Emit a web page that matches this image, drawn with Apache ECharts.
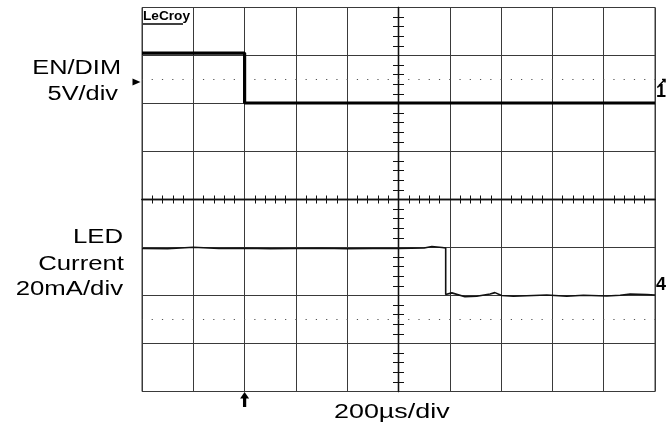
<!DOCTYPE html>
<html>
<head>
<meta charset="utf-8">
<script src="https://cdn.jsdelivr.net/npm/echarts@6/dist/echarts.min.js"></script>
<style>
html,body{margin:0;padding:0;background:#fff;}
#chart{width:666px;height:428px;}
</style>
</head>
<body>
<div id="chart"></div>
<script>
// ---- Scope settings ----
const TIME_MIN = -1000, TIME_MAX = 1000, TIME_PER_DIV = 200;   // µs, 200µs/div
const DIV_MIN = -4, DIV_MAX = 4;                               // vertical divisions
const CH1_VOLTS_PER_DIV = 5, CH1_OFFSET_DIV = 2;               // EN/DIM 5V/div
const CH4_MA_PER_DIV = 20, CH4_OFFSET_DIV = -2;                // LED current 20mA/div
const TRIGGER_TIME = -600;
const TRIGGER_LEVEL_DIV = 2.5;
const DOTTED_ROWS_DIV = [2.5, -2.5];

// ---- Channel 1: EN/DIM (V) ----
const ch1Time  = [-1000, -600, -600, 1000];
const ch1Volts = [5.25, 5.25, 0.05, 0.05];

// ---- Channel 4: LED current (mA) ----
const ch4Time = [-1000, -900, -800, -760, -700, -600, -500, -400, -300, -200, -100, 0, 100, 130, 170, 184,
                 184, 208, 259, 305, 357, 376, 402, 448, 578, 656, 721, 812, 864, 903, 968, 1000];
const ch4mA   = [19.6, 19.5, 20.1, 19.9, 19.6, 19.7, 19.5, 19.6, 19.7, 19.5, 19.6, 19.6, 19.8, 20.4, 20.0, 19.8,
                 0.4, 1.1, -0.5, -0.3, 0.6, 1.2, 0, -0.3, 0.2, -0.3, 0.1, -0.2, 0.1, 0.6, 0.4, 0.2];

// ---- Text ----
const ch1Label = ['EN/DIM', '5V/div'];
const ch4Label = ['LED', 'Current', '20mA/div'];
const timeLabel = '200µs/div';
const brandLabel = 'LeCroy';

const ch1Data = ch1Time.map((t, i) => [t, CH1_OFFSET_DIV + ch1Volts[i] / CH1_VOLTS_PER_DIV]);
const ch4Data = ch4Time.map((t, i) => [t, CH4_OFFSET_DIV + ch4mA[i] / CH4_MA_PER_DIV]);

const GRID_COLOR = '#3a3a3a';
const FONT = '"Liberation Sans", Arial, sans-serif';

function xAx(pos, withSplit) {
  return {
    type: 'value', min: TIME_MIN, max: TIME_MAX, interval: TIME_PER_DIV, position: pos,
    axisLine: { show: true, onZero: true, lineStyle: { color: '#111', width: 1.3 } },
    axisTick: { show: false },
    axisLabel: { show: false },
    splitLine: { show: withSplit, lineStyle: { color: GRID_COLOR, width: 1 } },
    minorTick: { show: true, splitNumber: 5, length: 4, lineStyle: { color: '#111', width: 1 } }
  };
}
function yAx(pos, withSplit) {
  return {
    type: 'value', min: DIV_MIN, max: DIV_MAX, interval: 1, position: pos,
    axisLine: { show: true, onZero: true, lineStyle: { color: '#111', width: 1.3 } },
    axisTick: { show: false },
    axisLabel: { show: false },
    splitLine: { show: withSplit, lineStyle: { color: GRID_COLOR, width: 1 } },
    minorTick: { show: true, splitNumber: 5, length: 5.5, lineStyle: { color: '#111', width: 1 } }
  };
}

const dotPeriod = 513 / 50;
const dottedLines = DOTTED_ROWS_DIV.map(v => [{ coord: [TIME_MIN, v] }, { coord: [TIME_MAX, v] }]);

function txt(text, x, y, size, align, sx, weight) {
  return {
    type: 'text', x: x, y: y, scaleX: sx, scaleY: 1, silent: true,
    style: {
      text: text, fill: '#000', align: align, verticalAlign: 'middle',
      font: (weight || 'normal') + ' ' + size + 'px ' + FONT
    }
  };
}

const chart = echarts.init(document.getElementById('chart'), null, { renderer: 'canvas' });
chart.setOption({
  animation: false,
  backgroundColor: '#fff',
  grid: { left: 142, top: 7.5, width: 513, height: 384, show: true, borderColor: GRID_COLOR, borderWidth: 1, backgroundColor: '#fff' },
  xAxis: [xAx('bottom', true), xAx('top', false)],
  yAxis: [yAx('left', true), yAx('right', false)],
  series: [
    {
      name: 'EN/DIM', type: 'line', data: ch1Data, xAxisIndex: 0, yAxisIndex: 0,
      showSymbol: false, symbol: 'none', clip: false, z: 5,
      lineStyle: { color: '#000', width: 3.2 },
      markLine: {
        silent: true, symbol: 'none', label: { show: false },
        lineStyle: { color: '#555', width: 1.2, type: [1.2, dotPeriod - 1.2], dashOffset: 0.6 },
        data: dottedLines
      },
      markPoint: {
        silent: true,
        data: [
          { coord: [TIME_MIN, TRIGGER_LEVEL_DIV], symbol: 'path://M0,0 L9,4 L0,8 Z', symbolSize: [8, 7], symbolOffset: [-5.5, 2.5], symbolKeepAspect: false, itemStyle: { color: '#000' }, label: { show: false } },
          { coord: [TRIGGER_TIME, DIV_MIN], symbol: 'path://M5,0 L10,6 L6.8,6 L6.8,14 L3.2,14 L3.2,6 L0,6 Z', symbolSize: [9, 15], symbolKeepAspect: false, symbolOffset: [0, 8], itemStyle: { color: '#000' }, label: { show: false } },
          { coord: [TIME_MAX, CH1_OFFSET_DIV], symbol: 'path://M0,8 L8,0 M4,0 L8,0 L8,4', symbolSize: [6, 6], symbolOffset: [7, -21], itemStyle: { color: 'rgba(0,0,0,0)', borderColor: '#000', borderWidth: 1.5 }, label: { show: false } },
          { coord: [TIME_MAX, CH1_OFFSET_DIV], symbol: 'rect', symbolSize: 1, symbolOffset: [6, -11], itemStyle: { color: 'rgba(0,0,0,0)' },
            label: { show: true, position: 'inside', formatter: '1', color: '#000', fontWeight: 'bold', fontSize: 18, fontFamily: FONT } }
        ]
      }
    },
    {
      name: 'LED Current', type: 'line', data: ch4Data, xAxisIndex: 0, yAxisIndex: 0,
      showSymbol: false, symbol: 'none', clip: false, z: 5,
      lineStyle: { color: '#111', width: 1.6 },
      markPoint: {
        silent: true,
        data: [
          { coord: [TIME_MAX, CH4_OFFSET_DIV], symbol: 'rect', symbolSize: 1, symbolOffset: [6, -10], itemStyle: { color: 'rgba(0,0,0,0)' },
            label: { show: true, position: 'inside', formatter: '4', color: '#000', fontWeight: 'bold', fontSize: 18, fontFamily: FONT } }
        ]
      }
    }
  ],
  graphic: [
    txt(ch1Label[0], 121, 68.7, 19.5, 'right', 1.3),
    txt(ch1Label[1], 118, 94.5, 19.5, 'right', 1.3),
    txt(ch4Label[0], 123, 238, 19.5, 'right', 1.32),
    txt(ch4Label[1], 124, 264.7, 19.5, 'right', 1.32),
    txt(ch4Label[2], 123, 289.7, 19.5, 'right', 1.32),
    txt(timeLabel, 334, 412.5, 21, 'left', 1.28),
    txt(brandLabel, 143, 16.5, 13, 'left', 1.05, 'bold'),
    { type: 'line', silent: true, shape: { x1: 143, y1: 24, x2: 183, y2: 24 }, style: { stroke: '#000', lineWidth: 1.5 } }
  ]
});
</script>
</body>
</html>
